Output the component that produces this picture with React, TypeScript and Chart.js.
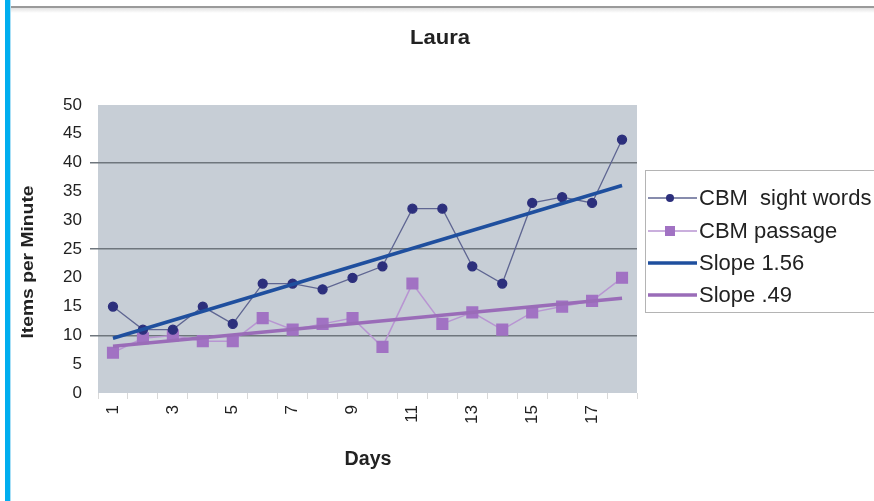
import React, { useEffect, useRef } from "react";
import { Chart, registerables } from "chart.js";

Chart.register(...registerables);

// Daily reading probes for Laura
const DAYS = ["1", "2", "3", "4", "5", "6", "7", "8", "9", "10", "11", "12", "13", "14", "15", "16", "17", "18"];
const SIGHT_WORDS = [15, 11, 11, 15, 12, 19, 19, 18, 20, 22, 32, 32, 22, 19, 33, 34, 33, 44];
const PASSAGE = [7, 9.5, 10, 9, 9, 13, 11, 12, 13, 8, 19, 12, 14, 11, 14, 15, 16, 20];

// Trend lines: value on day 1 and slope per day
const TREND_STARTS = [9.5, 8.1];
const TREND_SLOPES = [1.56, 0.49];

const SERIES_NAMES = ["CBM  sight words", "CBM passage", "Slope 1.56", "Slope .49"];
const CHART_TITLE = "Laura";
const X_TITLE = "Days";
const Y_TITLE = "Items per Minute";
const Y_MIN = 0;
const Y_MAX = 50;
const Y_STEP = 5;
const GRID_VALUES = [10, 25, 40];

const FONT = "'Liberation Sans', Arial, sans-serif";
const TEXT = "#222222";
const PLOT_BG = "#c7ced6";
const GRID = "#6f767d";
const SIGHT_LINE = "#5f6692";
const SIGHT_MARK = "#2c2f7c";
const PASSAGE_LINE = "#b895d2";
const PASSAGE_MARK = "#a172c3";
const TREND_BLUE = "#1f4f9e";
const TREND_PURPLE = "#9a6cb8";

const W = 874;
const H = 501;

function trendLine(k: number): (number | null)[] {
  const last = DAYS.length - 1;
  return DAYS.map((_, i) =>
    i === 0 ? TREND_STARTS[k] : i === last ? TREND_STARTS[k] + TREND_SLOPES[k] * last : null
  );
}

function fittedText(
  ctx: CanvasRenderingContext2D,
  text: string,
  x: number,
  y: number,
  font: string,
  width: number,
  rotate = 0
) {
  ctx.save();
  ctx.font = font;
  ctx.fillStyle = TEXT;
  ctx.textAlign = "center";
  ctx.textBaseline = "middle";
  ctx.translate(x, y);
  if (rotate) ctx.rotate(rotate);
  const m = ctx.measureText(text).width;
  ctx.scale(width / m, 1);
  ctx.fillText(text, 0, 0);
  ctx.restore();
}

const decorPlugin = {
  id: "decor",
  beforeDraw(chart: any) {
    const { ctx, chartArea: a } = chart;
    ctx.save();
    ctx.fillStyle = PLOT_BG;
    ctx.fillRect(a.left, a.top, a.right - a.left, a.bottom - a.top);
    ctx.restore();
  },
  afterDraw(chart: any) {
    const { ctx } = chart;
    fittedText(ctx, CHART_TITLE, 440, 38, `bold 21px ${FONT}`, 60);
    fittedText(ctx, X_TITLE, 368, 459, `bold 20px ${FONT}`, 47);
    fittedText(ctx, Y_TITLE, 29, 262, `bold 16px ${FONT}`, 153, -Math.PI / 2);

    // legend
    ctx.save();
    ctx.fillStyle = "#ffffff";
    ctx.fillRect(645, 170, 240, 142);
    ctx.strokeStyle = "#b4b4b4";
    ctx.lineWidth = 1;
    ctx.strokeRect(645.5, 170.5, 240, 142);
    const rows = [198, 231, 263, 295];
    const styles = [
      { line: SIGHT_LINE, w: 1.5, mark: "circle", color: SIGHT_MARK },
      { line: PASSAGE_LINE, w: 1.5, mark: "rect", color: PASSAGE_MARK },
      { line: TREND_BLUE, w: 3.5, mark: "", color: "" },
      { line: TREND_PURPLE, w: 3.5, mark: "", color: "" },
    ];
    rows.forEach((y, i) => {
      const s = styles[i];
      ctx.strokeStyle = s.line;
      ctx.lineWidth = s.w;
      ctx.beginPath();
      ctx.moveTo(648, y);
      ctx.lineTo(697, y);
      ctx.stroke();
      if (s.mark === "circle") {
        ctx.fillStyle = s.color;
        ctx.beginPath();
        ctx.arc(670, y, 4, 0, Math.PI * 2);
        ctx.fill();
      } else if (s.mark === "rect") {
        ctx.fillStyle = s.color;
        ctx.fillRect(665, y - 5, 10, 10);
      }
      ctx.font = `22px ${FONT}`;
      ctx.fillStyle = TEXT;
      ctx.textAlign = "left";
      ctx.textBaseline = "middle";
      ctx.fillText(SERIES_NAMES[i], 699, y + 1);
    });
    ctx.restore();
  },
};

export default function App() {
  const ref = useRef<HTMLCanvasElement | null>(null);

  useEffect(() => {
    if (!ref.current) return;
    const chart = new Chart(ref.current, {
      type: "line",
      data: {
        labels: DAYS,
        datasets: [
          {
            label: SERIES_NAMES[0],
            data: SIGHT_WORDS,
            borderColor: SIGHT_LINE,
            borderWidth: 1.3,
            pointStyle: "circle",
            pointRadius: 4.5,
            pointBackgroundColor: SIGHT_MARK,
            pointBorderColor: SIGHT_MARK,
            tension: 0,
            order: 2,
          },
          {
            label: SERIES_NAMES[1],
            data: PASSAGE,
            borderColor: PASSAGE_LINE,
            borderWidth: 1.5,
            pointStyle: "rect",
            pointRadius: 7.5,
            pointBackgroundColor: PASSAGE_MARK,
            pointBorderColor: PASSAGE_MARK,
            tension: 0,
            order: 3,
          },
          {
            label: SERIES_NAMES[2],
            data: trendLine(0),
            borderColor: TREND_BLUE,
            borderWidth: 3.5,
            pointRadius: 0,
            spanGaps: true,
            order: 0,
          },
          {
            label: SERIES_NAMES[3],
            data: trendLine(1),
            borderColor: TREND_PURPLE,
            borderWidth: 3.5,
            pointRadius: 0,
            spanGaps: true,
            order: 1,
          },
        ],
      },
      options: {
        responsive: false,
        animation: false,
        events: [],
        layout: { padding: { top: 105, right: W - 637, left: 0, bottom: 0 } },
        plugins: { legend: { display: false }, title: { display: false }, tooltip: { enabled: false } },
        scales: {
          x: {
            type: "category",
            offset: true,
            border: { display: false },
            grid: {
              offset: true,
              drawOnChartArea: false,
              drawTicks: true,
              tickLength: 6,
              color: "#d9d9d9",
            },
            ticks: {
              autoSkip: false,
              minRotation: 90,
              maxRotation: 90,
              padding: 6,
              color: TEXT,
              font: { family: FONT, size: 17 },
              callback: (_v: any, i: number) => (i % 2 === 0 ? DAYS[i] : ""),
            },
            afterFit: (s: any) => {
              s.height = H - 393;
            },
          },
          y: {
            min: Y_MIN,
            max: Y_MAX,
            border: { display: false },
            grid: {
              color: (c: any) => (GRID_VALUES.includes(c.tick?.value) ? GRID : "rgba(0,0,0,0)"),
              lineWidth: 1.5,
              tickLength: 8,
            },
            ticks: {
              stepSize: Y_STEP,
              padding: 8,
              color: TEXT,
              font: { family: FONT, size: 17 },
            },
            afterFit: (s: any) => {
              s.width = 98;
            },
          },
        },
      },
      plugins: [decorPlugin],
    });
    return () => chart.destroy();
  }, []);

  return (
    <div style={{ position: "absolute", left: 0, top: 0, width: W, height: H, background: "#ffffff", overflow: "hidden" }}>
      <canvas ref={ref} width={W} height={H} style={{ position: "absolute", left: 0, top: 0 }} />
      <div style={{ position: "absolute", left: 5, top: 0, width: 5, height: H, background: "#00aeef" }} />
      <div style={{ position: "absolute", left: 10, top: 0, width: 1, height: H, background: "#a9e0f7" }} />
      <div style={{ position: "absolute", left: 11, top: 6, width: W - 11, height: 2, background: "#9a9a9a" }} />
      <div
        style={{
          position: "absolute",
          left: 11,
          top: 8,
          width: W - 11,
          height: 5,
          background: "linear-gradient(#e2e2e2, #ffffff)",
        }}
      />
    </div>
  );
}
